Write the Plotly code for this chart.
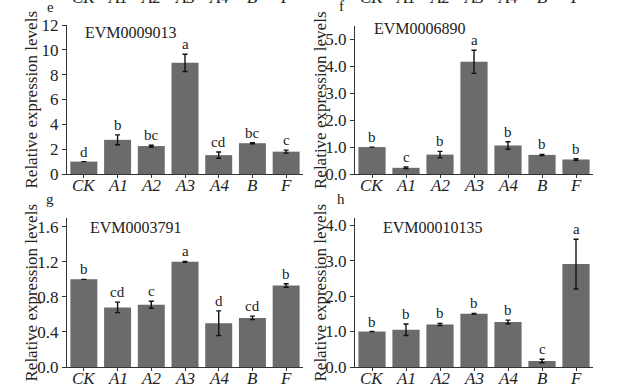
import plotly.graph_objects as go

categories = ["CK", "A1", "A2", "A3", "A4", "B", "F"]

e_vals = [1.0, 2.75, 2.25, 8.95, 1.52, 2.48, 1.8]
e_err = [0.0, 0.4, 0.07, 0.7, 0.25, 0.05, 0.12]
e_sig = ["d", "b", "bc", "a", "cd", "bc", "c"]

f_vals = [1.0, 0.23, 0.72, 4.17, 1.06, 0.71, 0.54]
f_err = [0.0, 0.03, 0.12, 0.43, 0.14, 0.02, 0.03]
f_sig = ["b", "c", "b", "a", "b", "b", "b"]

g_vals = [1.0, 0.68, 0.71, 1.2, 0.5, 0.56, 0.93]
g_err = [0.0, 0.06, 0.04, 0.005, 0.14, 0.02, 0.02]
g_sig = ["b", "cd", "c", "a", "d", "cd", "b"]

h_vals = [1.0, 1.05, 1.2, 1.5, 1.27, 0.17, 2.9]
h_err = [0.0, 0.16, 0.03, 0.01, 0.05, 0.05, 0.7]
h_sig = ["b", "b", "b", "b", "b", "c", "a"]

genes = ["EVM0009013", "EVM0006890", "EVM0003791", "EVM00010135"]
panel_letters = ["e", "f", "g", "h"]
y_title = "Relative expression levels"

W, H = 643, 389
FONT = "Liberation Serif"
BAR = "#6b6b6b"
AX = "#333333"

# panel pixel boxes: (x0, x1, ybottom, ytop)
boxes = [(67, 303, 174, 25), (355, 593, 174, 26), (67, 303, 367, 218), (355, 593, 367, 218)]
yranges = [[0, 12], [0, 5.5], [0, 1.7], [0, 4.2]]
ytickvals = [[0, 2, 4, 6, 8, 10, 12], [0, 1, 2, 3, 4, 5], [0, 0.4, 0.8, 1.2, 1.6], [0, 1, 2, 3, 4]]
ytickfmt = ["d", ".1f", ".1f", ".1f"]

data = [(e_vals, e_err, e_sig), (f_vals, f_err, f_sig), (g_vals, g_err, g_sig), (h_vals, h_err, h_sig)]

fig = go.Figure()
annotations = []
layout = {}

def px_x(p):
    return p / W

def px_y(p):
    return (H - p) / H

for i, ((vals, err, sig), box) in enumerate(zip(data, boxes)):
    n = "" if i == 0 else str(i + 1)
    xa, ya = "x" + n, "y" + n
    x0, x1, yb, yt = box
    fig.add_trace(go.Bar(
        x=categories, y=vals, xaxis=xa, yaxis=ya,
        marker=dict(color=BAR, line=dict(width=0)),
        error_y=dict(type="data", array=err, visible=True, color="#111111", thickness=1.4, width=2.5),
        showlegend=False, hoverinfo="skip",
    ))
    layout["xaxis" + n] = dict(
        domain=[px_x(x0), px_x(x1)], anchor=ya, type="category",
        range=[-0.5, 6.5], showline=True, linecolor=AX, linewidth=1,
        ticks="outside", ticklen=3, tickcolor=AX, showgrid=False,
        showticklabels=False,
    )
    layout["yaxis" + n] = dict(
        domain=[px_y(yb), px_y(yt)], anchor=xa, range=yranges[i],
        tickvals=ytickvals[i], tickformat=ytickfmt[i],
        showline=True, linecolor=AX, linewidth=1, ticks="outside", ticklen=4,
        tickcolor=AX, showgrid=False, zeroline=False,
        tickfont=dict(family=FONT, size=17, color="#222"),
    )
    # category labels under the axis
    for c in categories:
        annotations.append(dict(x=c, xref=xa, y=px_y(yb + 11), yref="paper", text=c, showarrow=False,
                                yanchor="middle",
                                font=dict(family=FONT, size=17, color="#222", style="italic")))
    # significance letters
    for c, v, e, s in zip(categories, vals, err, sig):
        annotations.append(dict(x=c, y=v + e, xref=xa, yref=ya, text=s, showarrow=False,
                                yanchor="bottom", yshift=0,
                                font=dict(family=FONT, size=15, color="#222")))
    # gene name
    gx = [83, 372, 88, 381][i]
    gy = [32, 29, 227, 227][i]
    annotations.append(dict(x=px_x(gx), y=px_y(gy), xref="paper", yref="paper", text=genes[i],
                            showarrow=False, xanchor="left", yanchor="middle",
                            font=dict(family=FONT, size=16, color="#222")))
    # y title
    tx = [31, 320, 31, 320][i]
    annotations.append(dict(x=px_x(tx), y=px_y((yb + yt) / 2), xref="paper", yref="paper",
                            text=y_title, textangle=-90, showarrow=False,
                            xanchor="center", yanchor="middle",
                            font=dict(family=FONT, size=17, color="#222")))
    # panel letter
    lx = [50, 341, 50, 341][i]
    ly = [7, 6, 199, 199][i]
    annotations.append(dict(x=px_x(lx), y=px_y(ly), xref="paper", yref="paper", text=panel_letters[i],
                            showarrow=False, xanchor="center", yanchor="middle",
                            font=dict(family=FONT, size=15, color="#222")))
    # cropped tick labels of the row above (top row only)
    if i < 2:
        for c in categories:
            annotations.append(dict(x=c, xref=xa, y=px_y(-2.5), yref="paper", text=c, showarrow=False,
                                    yanchor="middle",
                                    font=dict(family=FONT, size=17, color="#222", style="italic")))

fig.update_layout(
    width=W, height=H, margin=dict(l=0, r=0, t=0, b=0, pad=0, autoexpand=False),
    paper_bgcolor="white", plot_bgcolor="white",
    bargap=0.2, annotations=annotations, **layout,
)

fig.write_html(
    "out.html",
    config={"displayModeBar": False},
    post_script="document.body.style.margin='0';document.body.style.overflow='hidden';",
)
